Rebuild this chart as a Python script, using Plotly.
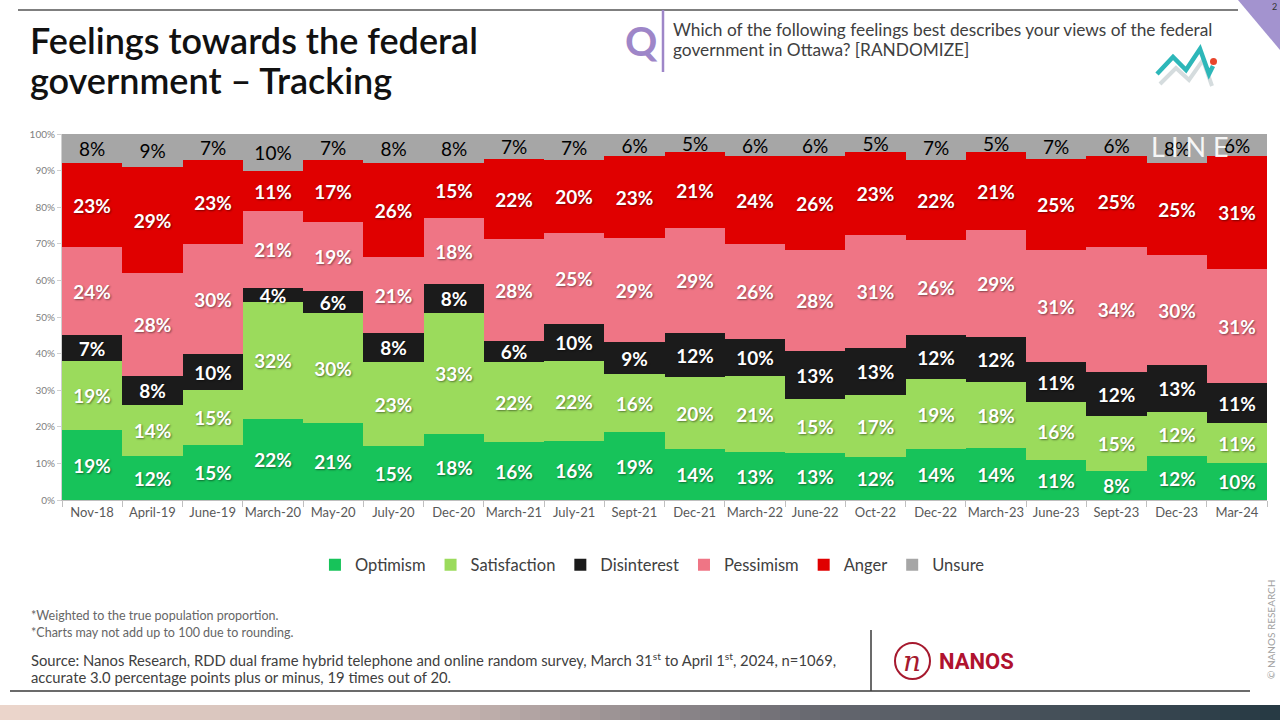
import plotly.graph_objects as go

categories = ["Nov-18", "April-19", "June-19", "March-20", "May-20", "July-20", "Dec-20",
              "March-21", "July-21", "Sept-21", "Dec-21", "March-22", "June-22", "Oct-22",
              "Dec-22", "March-23", "June-23", "Sept-23", "Dec-23", "Mar-24"]
optimism     = [19, 12, 15, 22, 21, 15, 18, 16, 16, 19, 14, 13, 13, 12, 14, 14, 11, 8, 12, 10]
satisfaction = [19, 14, 15, 32, 30, 23, 33, 22, 22, 16, 20, 21, 15, 17, 19, 18, 16, 15, 12, 11]
disinterest  = [7, 8, 10, 4, 6, 8, 8, 6, 10, 9, 12, 10, 13, 13, 12, 12, 11, 12, 13, 11]
pessimism    = [24, 28, 30, 21, 19, 21, 18, 28, 25, 29, 29, 26, 28, 31, 26, 29, 31, 34, 30, 31]
anger        = [23, 29, 23, 11, 17, 26, 15, 22, 20, 23, 21, 24, 26, 23, 22, 21, 25, 25, 25, 31]
unsure       = [8, 9, 7, 10, 7, 8, 8, 7, 7, 6, 5, 6, 6, 5, 7, 5, 7, 6, 8, 6]

series_names = ["Optimism", "Satisfaction", "Disinterest", "Pessimism", "Anger", "Unsure"]
series_values = [optimism, satisfaction, disinterest, pessimism, anger, unsure]
series_colors = ["#17C35A", "#9BDB5C", "#1B1B1B", "#EF7585", "#E00000", "#A6A6A6"]
text_colors = ["white", "white", "white", "white", "white", "black"]

FONT = "Lato"
W, H = 1280, 720
L, R, T, B = 62, 1267, 134, 500


def px(x):
    return (x - L) / (R - L)


def py(y):
    return (B - y) / (B - T)


fig = go.Figure()
for name, vals, col, tcol in zip(series_names, series_values, series_colors, text_colors):
    white = tcol == "white"
    fig.add_trace(go.Bar(
        x=categories, y=vals, name=name,
        marker=dict(color=col, line=dict(width=0)),
        text=[f"{v}%" for v in vals],
        textposition="inside", insidetextanchor="middle", textangle=0,
        textfont=dict(family=FONT, size=19, color=tcol,
                      weight="bold" if white else "normal",
                      shadow="1px 1px 2px rgba(0,0,0,0.45)" if white else "none"),
        hoverinfo="skip",
    ))

shapes = []
shapes.append(dict(type="line", xref="paper", yref="paper", x0=px(18), x1=px(1238), y0=py(10), y1=py(10),
                   line=dict(color="#7F7F7F", width=2)))
shapes.append(dict(type="path", xref="paper", yref="paper",
                   path=f"M {px(1238)} {py(0)} L {px(1280)} {py(0)} L {px(1280)} {py(50)} Z",
                   fillcolor="#A393CF", line=dict(width=0)))
shapes.append(dict(type="line", xref="paper", yref="paper", x0=px(663), x1=px(663), y0=py(10), y1=py(72),
                   line=dict(color="#9E86C8", width=2.5)))
shadow_pts = [(1160, 84), (1176, 68), (1189, 80), (1203, 60), (1212, 86)]
teal_pts = [(1157, 74), (1173, 57), (1186, 70), (1200, 49), (1209, 74), (1213, 66)]


def mkpath(pts):
    return "M " + " L ".join(f"{px(a)} {py(b)}" for a, b in pts)


shapes.append(dict(type="path", xref="paper", yref="paper", path=mkpath(shadow_pts),
                   line=dict(color="#D5DCDE", width=4)))
shapes.append(dict(type="path", xref="paper", yref="paper", path=mkpath(teal_pts),
                   line=dict(color="#2DB7B9", width=4.5)))
shapes.append(dict(type="circle", xref="paper", yref="paper", x0=px(1210), x1=px(1217), y0=py(58), y1=py(65),
                   fillcolor="#E8452C", line=dict(width=0)))
shapes.append(dict(type="line", xref="paper", yref="paper", x0=px(10), x1=px(1250), y0=py(691), y1=py(691),
                   line=dict(color="#3A3A3A", width=1.5)))
shapes.append(dict(type="line", xref="paper", yref="paper", x0=px(871), x1=px(871), y0=py(630), y1=py(691),
                   line=dict(color="#3A3A3A", width=1.5)))
shapes.append(dict(type="circle", xref="paper", yref="paper", x0=px(895), x1=px(930), y0=py(643), y1=py(679),
                   line=dict(color="#A6192E", width=2)))
stops = [(0.0, (236, 214, 204)), (0.35, (200, 182, 178)), (0.65, (100, 102, 110)), (1.0, (38, 58, 68))]


def grad(t):
    for (t0, c0), (t1, c1) in zip(stops[:-1], stops[1:]):
        if t <= t1:
            f = (t - t0) / (t1 - t0)
            return "rgb(%d,%d,%d)" % tuple(int(c0[i] + (c1[i] - c0[i]) * f) for i in range(3))
    return "rgb(%d,%d,%d)" % stops[-1][1]


N = 64
for i in range(N):
    x0 = i * W / N
    x1 = (i + 1) * W / N + 1
    shapes.append(dict(type="rect", xref="paper", yref="paper", x0=px(x0), x1=px(x1), y0=py(705), y1=py(720),
                       fillcolor=grad((i + 0.5) / N), line=dict(width=0), layer="above"))

ann = []


def text_at(txt, x, y, size, color, xanchor="left", yanchor="middle", family=FONT, weight="normal", angle=0):
    ann.append(dict(text=txt, x=px(x), y=py(y), xref="paper", yref="paper", xanchor=xanchor, yanchor=yanchor,
                    showarrow=False, textangle=angle, align="left",
                    font=dict(family=family, size=size, color=color, weight=weight)))


text_at("Feelings towards the federal", 28, 40, 36, "#111111", weight=600)
text_at("government – Tracking", 28, 80, 36, "#111111", weight=600)
text_at("Q", 641, 41, 40, "#9E86C8", xanchor="center", weight="bold")
text_at("Which of the following feelings best describes your views of the federal", 671, 29, 17.3, "#404040")
text_at("government in Ottawa? [RANDOMIZE]", 671, 49, 17.3, "#404040")
text_at("2", 1274, 6, 9, "#333333", xanchor="center")
text_at("L I N E", 1190, 146, 27, "rgba(255,255,255,0.92)", xanchor="center")
text_at("*Weighted to the true population proportion.", 29, 615, 12.5, "#666666")
text_at("*Charts may not add up to 100 due to rounding.", 29, 632, 12.5, "#666666")
text_at("Source: Nanos Research, RDD dual frame hybrid telephone and online random survey, March 31<sup>st</sup> to April 1<sup>st</sup>, 2024, n=1069,",
        29, 659, 14.8, "#404040")
text_at("accurate 3.0 percentage points plus or minus, 19 times out of 20.", 29, 677, 14.8, "#404040")
text_at("<i>n</i>", 912, 661, 28, "#A6192E", xanchor="center", family="DejaVu Serif")
text_at("NANOS", 937, 661, 22, "#B0122F", family="Roboto", weight="bold")
text_at("© NANOS RESEARCH", 1271, 630, 10, "#A0A0A0", xanchor="center", angle=-90)

fig.update_layout(
    width=W, height=H,
    margin=dict(l=L, r=W - R, t=T, b=H - B, pad=0),
    paper_bgcolor="white", plot_bgcolor="white",
    barmode="stack", barnorm="percent", bargap=0,
    uniformtext=dict(minsize=19, mode="show"),
    showlegend=True,
    legend=dict(orientation="h", x=0.49, xanchor="center", y=py(565), yanchor="middle",
                font=dict(family=FONT, size=16.5, color="#404040"), traceorder="normal",
                itemwidth=30),
    xaxis=dict(tickfont=dict(family=FONT, size=13, color="#595959"), tickangle=0, showline=True,
               linecolor="#BFBFBF", ticks="outside", tickson="boundaries", ticklen=6, tickcolor="#BFBFBF",
               showgrid=False, fixedrange=True),
    yaxis=dict(range=[0, 100], dtick=10, ticksuffix="%", tickfont=dict(family=FONT, size=10, color="#808080"),
               showline=True, linecolor="#D0D0D0", ticks="outside", ticklen=4, tickcolor="#D0D0D0",
               showgrid=False, zeroline=False, fixedrange=True),
    shapes=shapes, annotations=ann,
    font=dict(family=FONT),
)

fig.write_html("out.html", config={"displayModeBar": False},
               post_script="document.body.style.margin='0px';document.body.style.overflow='hidden';")
